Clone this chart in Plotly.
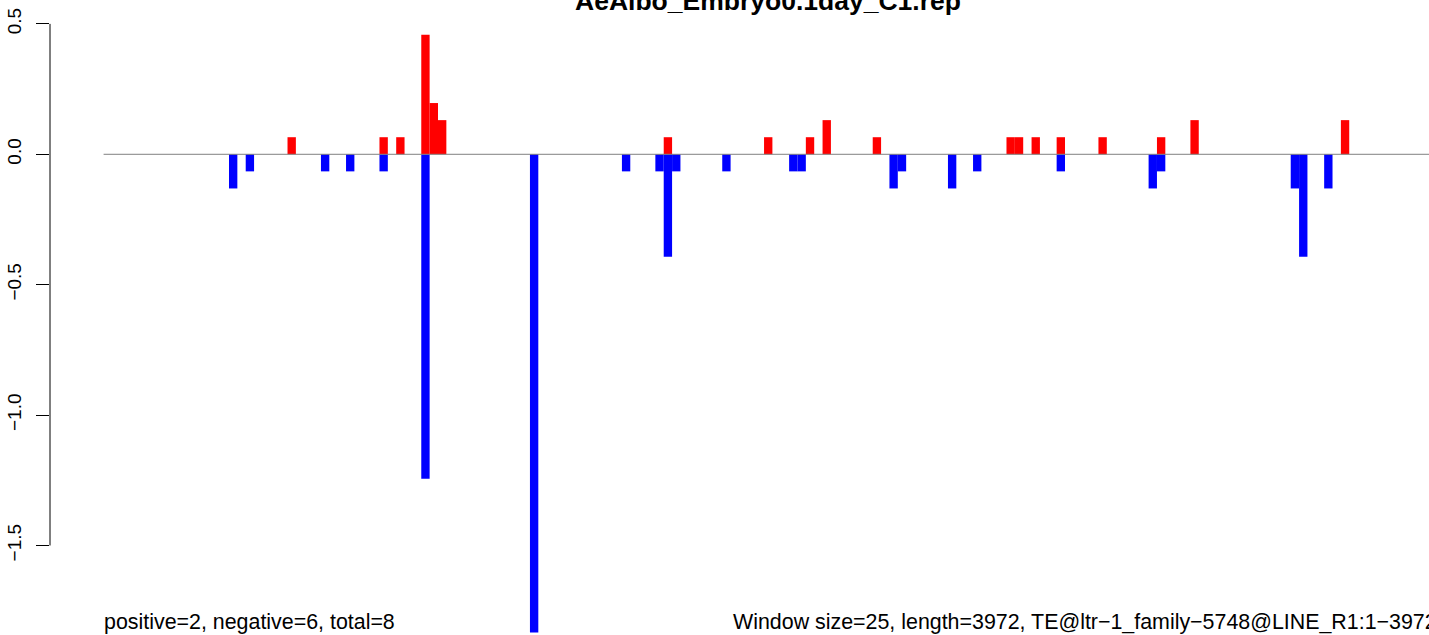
import plotly.graph_objects as go

# ---- data (window index, value) ----
title_text = "AeAlbo_Embryo0.1day_C1.rep"
n_windows = 159

pos_windows = [22, 33, 35, 38, 39, 40, 67, 79, 84, 86, 92, 108, 109, 111, 114, 119, 126, 130, 148]
pos_values = [0.0655, 0.0655, 0.0655, 0.4585, 0.1965, 0.131, 0.0655, 0.0655, 0.0655, 0.131,
              0.0655, 0.0655, 0.0655, 0.0655, 0.0655, 0.0655, 0.0655, 0.131, 0.131]

neg_windows = [15, 17, 26, 29, 33, 38, 51, 62, 66, 67, 68, 74, 82, 83, 94, 95, 101, 104,
               114, 125, 126, 142, 143, 146]
neg_values = [-0.131, -0.0655, -0.0655, -0.0655, -0.0655, -1.2445, -1.834, -0.0655, -0.0655,
              -0.393, -0.0655, -0.0655, -0.0655, -0.0655, -0.131, -0.0655, -0.131, -0.0655,
              -0.0655, -0.131, -0.0655, -0.131, -0.393, -0.131]

ytick_vals = [-1.5, -1.0, -0.5, 0.0, 0.5]
ytick_text = ["\u22121.5", "\u22121.0", "\u22120.5", "0.0", "0.5"]

left_note = "positive=2, negative=6, total=8"
right_note = "Window size=25, length=3972, TE@ltr\u22121_family\u22125748@LINE_R1:1\u22123972"

FONT = "Liberation Sans, Arial, Helvetica, sans-serif"

fig = go.Figure()

# zero line spanning all windows
fig.add_trace(go.Scatter(x=[0, n_windows], y=[0, 0], mode="lines",
                         line=dict(color="#808080", width=1), hoverinfo="skip",
                         showlegend=False))

fig.add_trace(go.Bar(x=[w + 0.5 for w in pos_windows], y=pos_values, width=1,
                     marker=dict(color="#FF0000", line=dict(width=0)), showlegend=False))
fig.add_trace(go.Bar(x=[w + 0.5 for w in neg_windows], y=neg_values, width=1,
                     marker=dict(color="#0000FF", line=dict(width=0)), showlegend=False))

fig.update_layout(
    width=1429, height=635,
    margin=dict(l=50, r=0, t=0, b=0),
    paper_bgcolor="white", plot_bgcolor="white",
    barmode="relative",
    showlegend=False,
    xaxis=dict(range=[-6.41, 158.54], visible=False, fixedrange=True),
    yaxis=dict(range=[-1.8432, 0.5916], showgrid=False, zeroline=False, showline=False,
               tickmode="array", tickvals=ytick_vals, ticktext=ytick_text,
               ticks="outside", ticklen=13, tickwidth=1, tickcolor="black",
               tickangle=-90, ticklabelstandoff=7,
               tickfont=dict(family=FONT, size=19, color="black")),
    font=dict(family=FONT, color="black"),
)

# y axis line only between extreme ticks (R style)
fig.add_shape(type="line", xref="paper", yref="y", x0=0, x1=0,
              y0=ytick_vals[0], y1=ytick_vals[-1], line=dict(color="black", width=1))

# title (partially cut at top, as in the reference)
fig.add_annotation(text="<b>" + title_text + "</b>", xref="paper", yref="paper",
                   x=(1486 - 50) / 2 / 1379, y=1 - 18 / 635, xanchor="center", yanchor="bottom",
                   showarrow=False, font=dict(family=FONT, size=26.5, color="black"))

fig.add_annotation(text=left_note, xref="x", yref="paper", x=-0.2, y=1 - 636 / 635,
                   xanchor="left", yanchor="bottom", showarrow=False,
                   font=dict(family=FONT, size=21.4, color="black"))
fig.add_annotation(text=right_note, xref="x", yref="paper", x=75.1, y=1 - 636 / 635,
                   xanchor="left", yanchor="bottom", showarrow=False,
                   font=dict(family=FONT, size=21.4, color="black"))

fig.write_html("out.html", config={"displayModeBar": False},
               post_script="document.body.style.margin='0px';document.body.style.overflow='hidden';")
